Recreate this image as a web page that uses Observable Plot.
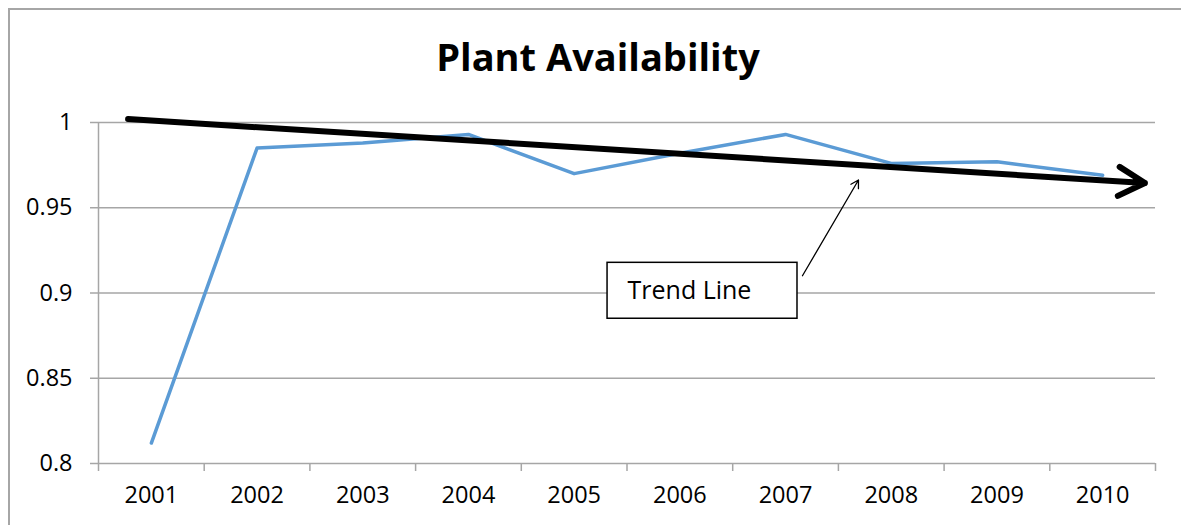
<!DOCTYPE html>
<html>
<head>
<meta charset="utf-8">
<script src="https://cdn.jsdelivr.net/npm/d3@7"></script>
<script src="https://cdn.jsdelivr.net/npm/@observablehq/plot@0.6"></script>
<style>
  html, body { margin: 0; padding: 0; background: #fff; }
  #wrap { position: relative; width: 1181px; height: 525px; overflow: hidden; }
  #border { position: absolute; left: 8px; top: 8px; right: -4px; bottom: -4px;
            border-left: 2px solid #a6a6a6; border-top: 2px solid #a6a6a6; pointer-events: none; }
  svg { display: block; }
</style>
</head>
<body>
<div id="wrap"><div id="border"></div></div>
<script>
const title = "Plant Availability";
const years = [2001, 2002, 2003, 2004, 2005, 2006, 2007, 2008, 2009, 2010];
const availability = [0.812, 0.985, 0.988, 0.993, 0.970, 0.982, 0.993, 0.976, 0.977, 0.969];
const yTicks = [0.8, 0.85, 0.9, 0.95, 1];
const yearBoundaries = [2000.5, 2001.5, 2002.5, 2003.5, 2004.5, 2005.5, 2006.5, 2007.5, 2008.5, 2009.5, 2010.5];
// trend line (start, end) in data coordinates
const trendX = [2000.78, 2010.4];
const trendY = [1.002, 0.9645];
// annotation
const noteLabel = "Trend Line";
const noteBoxX = [2005.316, 2007.113];
const noteBoxY = [0.8849, 0.9177];
const noteTextAt = [2005.505, 0.9013];
const noteArrowX = [2007.16, 2007.69];
const noteArrowY = [0.9101, 0.9663];

const data = years.map((y, i) => ({year: y, value: availability[i]}));
const gray = "#a6a6a6";
const font = "'Open Sans', Lato, sans-serif";

const chart = Plot.plot({
  width: 1181,
  height: 525,
  marginLeft: 98,
  marginRight: 26,
  marginTop: 122,
  marginBottom: 62,
  style: {fontFamily: font, background: "transparent", overflow: "visible"},
  x: {domain: [2000.5, 2010.5]},
  y: {domain: [0.8, 1]},
  marks: [
    Plot.ruleY(yTicks, {stroke: gray, strokeWidth: 1.5}),
    Plot.ruleX([2000.5], {stroke: gray, strokeWidth: 1.5}),
    Plot.axisY(yTicks, {tickSize: 8, tickPadding: 18, stroke: gray, strokeWidth: 1.5, fill: "#000",
      fontSize: 23.5, tickFormat: d => String(d), label: null}),
    Plot.axisX(yearBoundaries, {tickSize: 8, stroke: gray, strokeWidth: 1.5, text: null, label: null}),
    Plot.axisX(years, {tickSize: 0, tickPadding: 23, fill: "#000", fontSize: 23.5,
      tickFormat: d => String(d), label: null}),
    Plot.line(data, {x: "year", y: "value", stroke: "#5b9bd5", strokeWidth: 3.5}),
    Plot.arrow([0], {x1: () => trendX[0], y1: () => trendY[0], x2: () => trendX[1], y2: () => trendY[1],
      stroke: "#000", strokeWidth: 6, headLength: 7.5, headAngle: 58}),
    Plot.rect([0], {x1: () => noteBoxX[0], x2: () => noteBoxX[1], y1: () => noteBoxY[0], y2: () => noteBoxY[1],
      fill: "#fff", stroke: "#000", strokeWidth: 1.5}),
    Plot.text([noteLabel], {x: () => noteTextAt[0], y: () => noteTextAt[1], text: d => d,
      textAnchor: "start", fontSize: 25, fill: "#000"}),
    Plot.arrow([0], {x1: () => noteArrowX[0], y1: () => noteArrowY[0], x2: () => noteArrowX[1], y2: () => noteArrowY[1],
      stroke: "#000", strokeWidth: 1.3, headLength: 10, headAngle: 60}),
    Plot.text([title], {frameAnchor: "top-left", dx: 499.5, dy: -64, text: d => d, textAnchor: "middle",
      fontSize: 38, fontWeight: "bold", fill: "#000", lineAnchor: "middle"})
  ]
});
document.getElementById("wrap").prepend(chart);
</script>
</body>
</html>
